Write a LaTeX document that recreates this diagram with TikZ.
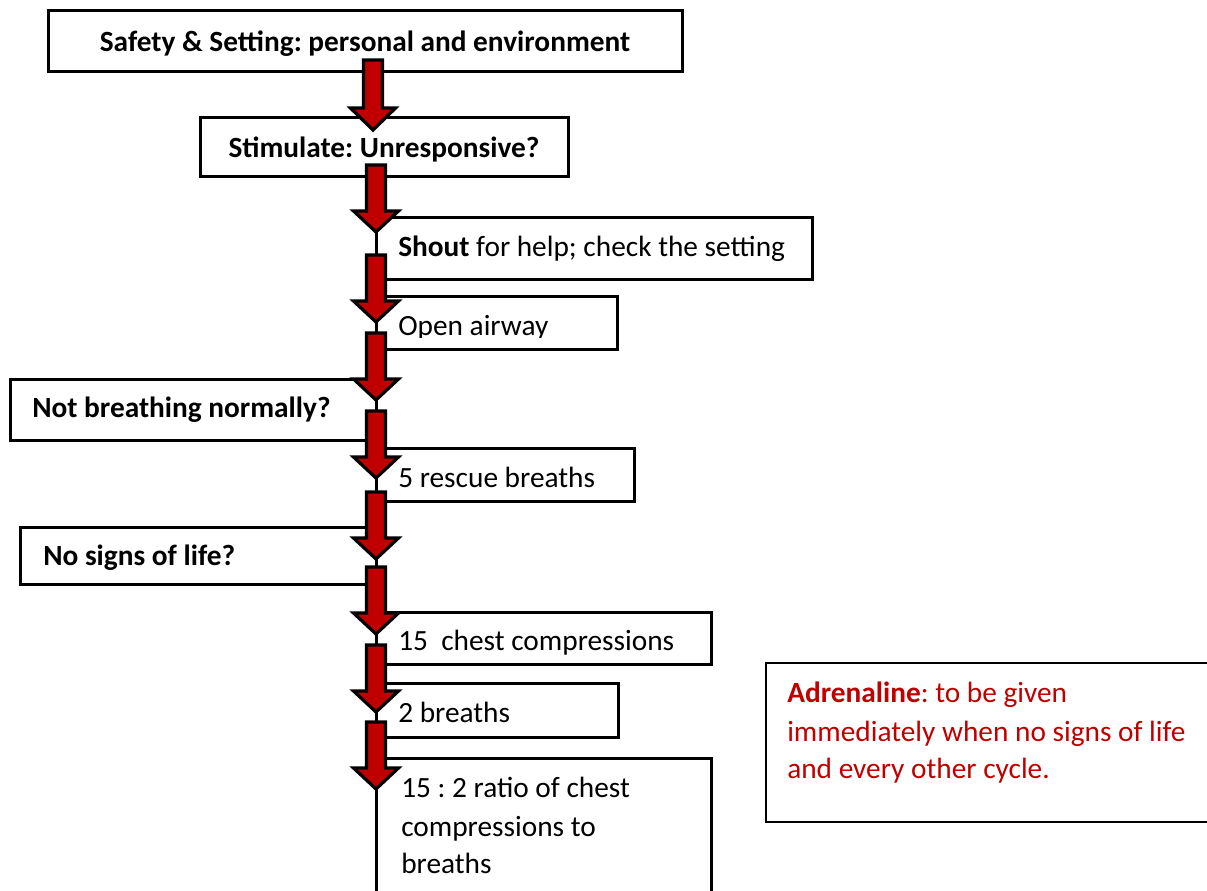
\documentclass[tikz,border=0pt]{standalone}
\usepackage{fontspec}
\setmainfont{Carlito}
\frenchspacing
\definecolor{darkred}{HTML}{C00000}
\begin{document}
\begin{tikzpicture}[x=0.75pt,y=-0.75pt,
  box/.style={draw=black,line width=2.25pt,fill=white,line join=miter},
  lbl/.style={anchor=base west,inner sep=0pt,font=\fontsize{22}{28.5}\selectfont},
  blbl/.style={inner sep=0pt,font=\fontsize{22}{27}\selectfont\bfseries},
  redlbl/.style={lbl,text=darkred},
  arr/.style={draw=black,line width=2.4pt,fill=darkred,line join=miter},
  blockarrow/.pic={\draw[arr] (-9.5,0) -- (-9.5,46) -- (-22.5,46) -- (0,67) -- (22.5,46) -- (9.5,46) -- (9.5,0) -- cycle;}
]
\clip (0,0) rectangle (1207,890);
% boxes
\draw[box] (48,10) rectangle (682,71);
\draw[box] (200,117) rectangle (568,176);
\draw[box] (376,217) rectangle (812,279);
\draw[box] (376,296) rectangle (617,349);
\draw[box] (10,379) rectangle (376,440);
\draw[box] (376,448) rectangle (634,501);
\draw[box] (20,527) rectangle (376,584);
\draw[box] (376,612) rectangle (711,664);
\draw[box] (376,683) rectangle (618,737);
\draw[box] (376,900) -- (376,758) -- (711,758) -- (711,900);
\draw[draw=black,line width=1.9pt] (1215,663) -- (766,663) -- (766,822) -- (1215,822);
% texts
\node[blbl,anchor=base] (safety) at (365,51) {Safety \& Setting: personal and environment};
\node[blbl,anchor=base] (stim) at (384,157) {Stimulate: Unresponsive?};
\node[lbl] (shout) at (398,256) {\textbf{Shout} for help; check the setting};
\begin{scope}
\clip (376,296) rectangle (617,337);
\node[lbl] (open) at (398,335) {Open airway};
\end{scope}
\node[blbl,anchor=base west] (notb) at (32,417) {Not breathing normally?};
\node[lbl] (rescue) at (398,487) {5 rescue breaths};
\node[blbl,anchor=base west] (nosigns) at (43,565) {No signs of life?};
\node[lbl] (chest) at (398,650) {15~ chest compressions};
\node[lbl] (breaths) at (398,722) {2 breaths};
\node[lbl] (ratioa) at (401,797) {15 : 2 ratio of chest};
\node[lbl] (ratiob) at (401,836) {compressions to};
\node[lbl] (ratioc) at (401,873) {breaths};
\node[redlbl] (adra) at (787,702) {\textbf{Adrenaline}: to be given};
\node[redlbl] (adrb) at (787,741) {immediately when no signs of life};
\node[redlbl] (adrc) at (787,778) {and every other cycle.};
% arrows
\pic[yscale=1.045] at (373,60) {blockarrow};
\pic at (376,165) {blockarrow};
\pic at (376,255) {blockarrow};
\pic at (376,333) {blockarrow};
\pic at (376,411) {blockarrow};
\pic at (376,492) {blockarrow};
\pic at (376,567) {blockarrow};
\pic at (376,645) {blockarrow};
\pic at (376,722) {blockarrow};
\end{tikzpicture}
\end{document}
